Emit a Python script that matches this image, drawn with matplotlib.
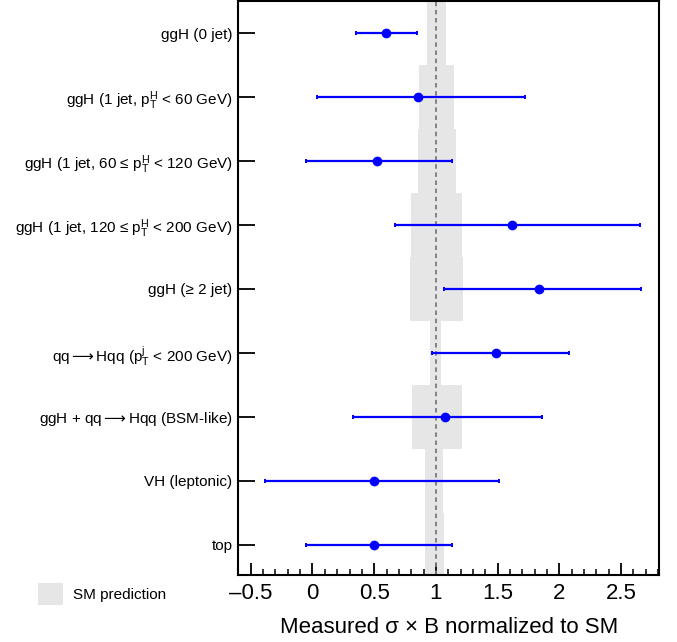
import numpy as np
import matplotlib
matplotlib.use('Agg')
import matplotlib.pyplot as plt
from matplotlib.patches import Patch
from matplotlib.ticker import MultipleLocator

plt.rcParams['font.family'] = ['Liberation Sans', 'DejaVu Sans']
plt.rcParams['mathtext.fontset'] = 'custom'
plt.rcParams['mathtext.rm'] = 'Liberation Sans'
plt.rcParams['mathtext.it'] = 'Liberation Sans:italic'
plt.rcParams['mathtext.bf'] = 'Liberation Sans:bold'
plt.rcParams['mathtext.sf'] = 'DejaVu Sans'

# categories, top to bottom
labels = [
    'ggH (0 jet)',
    r'ggH (1 jet, $\mathrm{p}_\mathrm{T}^\mathrm{H}$ < 60 GeV)',
    r'ggH (1 jet, 60 ≤ $\mathrm{p}_\mathrm{T}^\mathrm{H}$ < 120 GeV)',
    r'ggH (1 jet, 120 ≤ $\mathrm{p}_\mathrm{T}^\mathrm{H}$ < 200 GeV)',
    'ggH (≥ 2 jet)',
    r'qq${\mathsf{\longrightarrow}}$Hqq ($\mathrm{p}_\mathrm{T}^\mathrm{j}$ < 200 GeV)',
    r'ggH + qq${\mathsf{\longrightarrow}}$Hqq (BSM-like)',
    'VH (leptonic)',
    'top',
]
mu = [0.593, 0.855, 0.523, 1.616, 1.835, 1.490, 1.074, 0.496, 0.496]
mu_lo = [0.351, 0.037, -0.054, 0.666, 1.066, 0.972, 0.326, -0.384, -0.054]
mu_hi = [0.845, 1.719, 1.130, 2.656, 2.661, 2.081, 1.857, 1.508, 1.134]
sm_lo = [0.928, 0.861, 0.853, 0.796, 0.788, 0.955, 0.807, 0.909, 0.909]
sm_hi = [1.079, 1.150, 1.160, 1.209, 1.217, 1.044, 1.209, 1.061, 1.065]

n = len(labels)
ypos = np.arange(n)[::-1]
mu = np.array(mu)
err = [mu - np.array(mu_lo), np.array(mu_hi) - mu]

fig = plt.figure(figsize=(6.77, 6.42), dpi=100)
ax = fig.add_axes([0.3516, 0.1044, 0.974 - 0.3516, 0.9984 - 0.1044])

ax.barh(ypos, np.array(sm_hi) - np.array(sm_lo), left=sm_lo, height=1.0,
        color='#e6e6e6', linewidth=0, zorder=1)
ax.axvline(1.0, color='#7a7a7a', ls=(0, (2.5, 2)), lw=1.3, zorder=2)
ax.errorbar(mu, ypos, xerr=err, fmt='o', color='#0000ff', ms=6,
            elinewidth=1.6, capsize=1.6, capthick=1.4, zorder=3)

ax.set_xlim(-0.603, 2.81)
ax.set_ylim(-0.47, 8.5)
ax.set_yticks(ypos)
ax.set_yticklabels(labels, fontsize=11)
ax.xaxis.set_minor_locator(MultipleLocator(0.1))
ax.set_xticks([-0.5, 0, 0.5, 1, 1.5, 2, 2.5])
ax.set_xticklabels(['–0.5', '0', '0.5', '1', '1.5', '2', '2.5'])
ax.tick_params(axis='x', which='major', direction='in', length=8.5, width=1.3,
               labelsize=16, pad=6)
ax.tick_params(axis='x', which='minor', direction='in', length=4, width=1.1)
ax.tick_params(axis='y', which='major', direction='in', length=12, width=1.3,
               pad=4)
ax.tick_params(axis='y', which='minor', left=False)
for s in ax.spines.values():
    s.set_linewidth(1.5)

ax.set_xlabel('Measured σ × B normalized to SM', fontsize=16, labelpad=9)

fig.legend(handles=[Patch(facecolor='#e6e6e6', edgecolor='none')],
           labels=['SM prediction'], loc='center left',
           bbox_to_anchor=(0.056, 0.0748), frameon=False, fontsize=11,
           borderpad=0, borderaxespad=0, handlelength=1.64, handleheight=1.78,
           handletextpad=0.65)

fig.savefig('out.png', dpi=100)
